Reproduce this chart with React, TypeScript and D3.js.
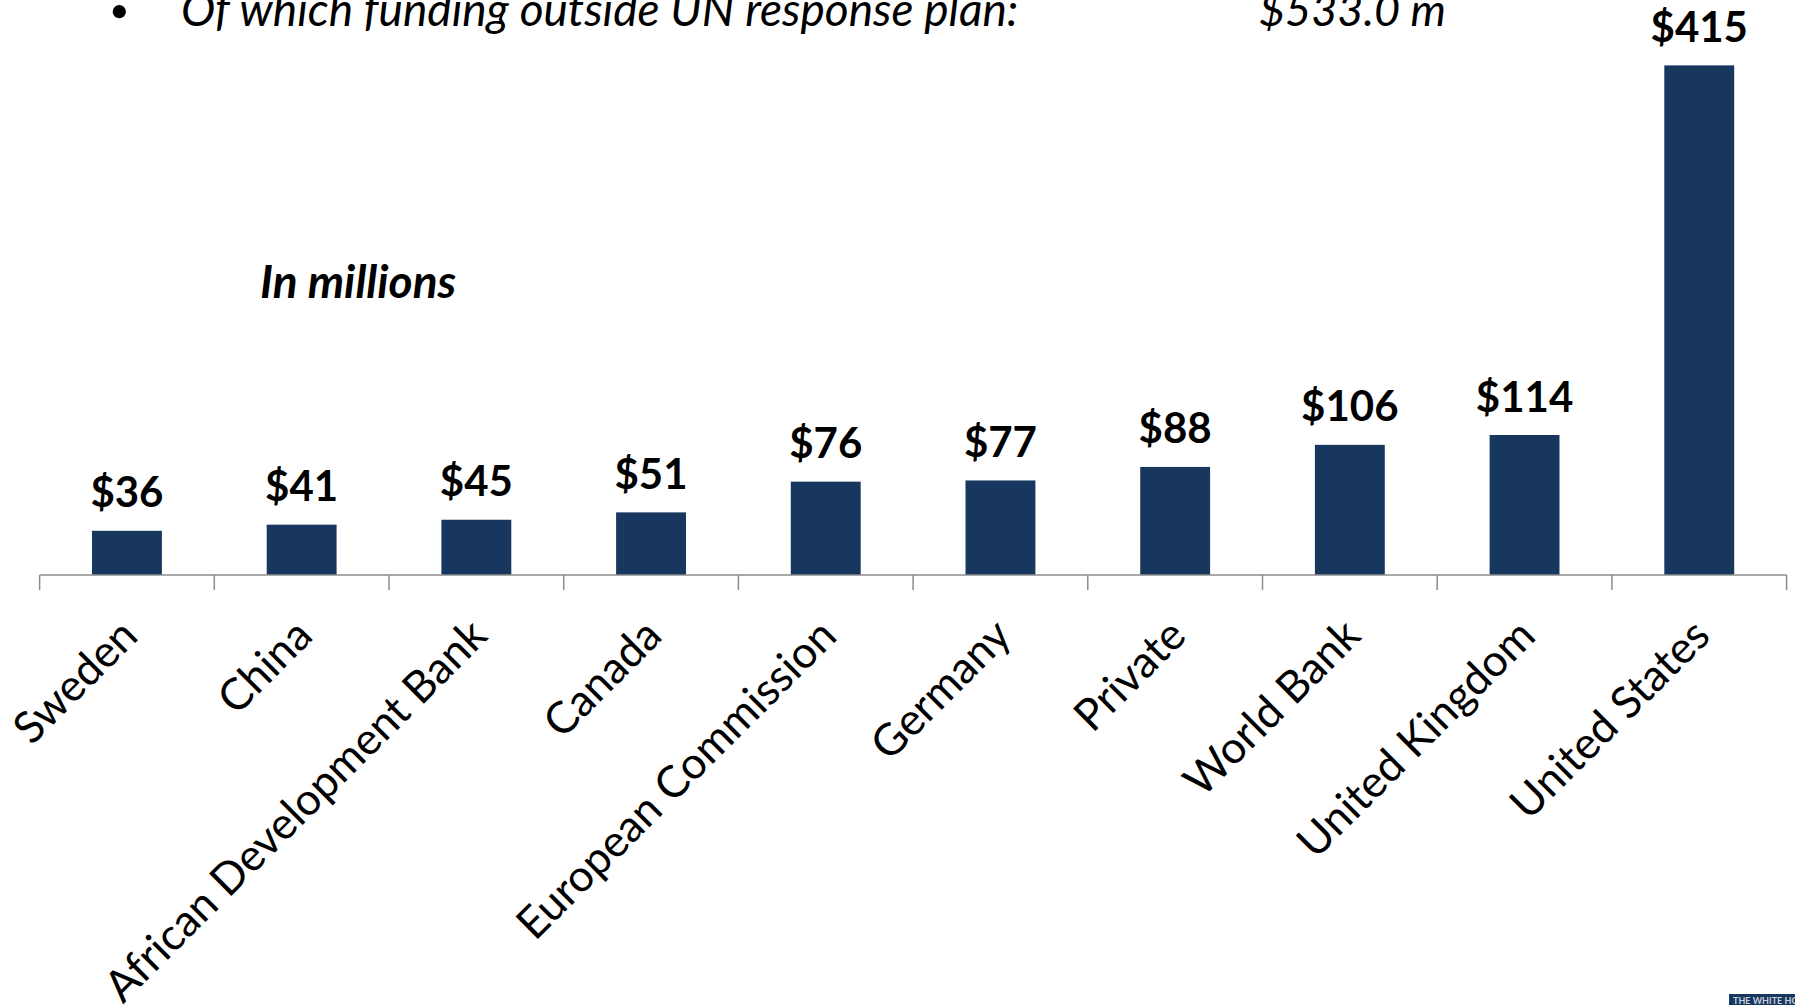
import React, { useEffect } from "react";
import * as d3 from "d3";

const categories = [
  "Sweden",
  "China",
  "African Development Bank",
  "Canada",
  "European Commission",
  "Germany",
  "Private",
  "World Bank",
  "United Kingdom",
  "United States",
];
const values = [36, 41, 45, 51, 76, 77, 88, 106, 114, 415];
const titleText = "Of which funding outside UN response plan:";
const titleValue = "$533.0 m";
const unitNote = "In millions";

const W = 1795;
const H = 1005;
const axisY = 575;
const barColor = "#17375E";

export default function App() {
  useEffect(() => {
    document.body.style.margin = "0";
    document.body.style.overflow = "hidden";
  }, []);

  const x = d3
    .scaleBand<string>()
    .domain(categories)
    .range([39.6, 1786.6])
    .paddingInner(0.6)
    .paddingOuter(0.3);
  const y = d3.scaleLinear().domain([0, 450]).range([axisY, axisY - 450 * 1.228]);
  const step = x.step();
  const tickXs = d3.range(categories.length + 1).map((i) => 39.6 + i * step);

  return (
    <svg width={W} height={H} style={{ display: "block", background: "#fff" }}>
      {/* title line */}
      <circle cx={119.3} cy={11.7} r={6.6} fill="#000" />
      <text x={181} y={26} fontFamily="Lato" fontStyle="italic" fontSize={46} fill="#000">
        {titleText}
      </text>
      <text x={1259} y={26} fontFamily="Lato" fontStyle="italic" fontSize={45} fill="#000">
        {titleValue}
      </text>
      <text x={260} y={298} fontFamily="Lato" fontStyle="italic" fontWeight={700} fontSize={46} fill="#000">
        {unitNote}
      </text>

      {/* bars */}
      {categories.map((c, i) => (
        <rect
          key={c}
          x={x(c)}
          y={y(values[i])}
          width={x.bandwidth()}
          height={axisY - y(values[i])}
          fill={barColor}
        />
      ))}

      {/* value labels */}
      {categories.map((c, i) => (
        <text
          key={"v" + c}
          x={(x(c) as number) + x.bandwidth() / 2}
          y={y(values[i]) - 23.5}
          textAnchor="middle"
          fontFamily="Lato"
          fontWeight={700}
          fontSize={42}
          fill="#000"
        >
          {"$" + values[i]}
        </text>
      ))}

      {/* axis */}
      <line x1={tickXs[0]} x2={tickXs[tickXs.length - 1]} y1={axisY} y2={axisY} stroke="#8c8c8c" strokeWidth={1.5} />
      {tickXs.map((t, i) => (
        <line key={"t" + i} x1={t} x2={t} y1={axisY} y2={axisY + 15} stroke="#8c8c8c" strokeWidth={1.5} />
      ))}

      {/* category labels */}
      {categories.map((c) => {
        const cx = (x(c) as number) + x.bandwidth() / 2 - 11;
        return (
          <text
            key={"l" + c}
            transform={`translate(${cx},614) rotate(-45)`}
            y={34}
            textAnchor="end"
            fontFamily="Lato"
            fontSize={44}
            fill="#000"
          >
            {c}
          </text>
        );
      })}

      {/* corner logo */}
      <rect x={1729} y={994} width={66} height={11} fill={barColor} />
      <text x={1733} y={1004} fontFamily="Lato" fontWeight={700} fontSize={9} fill="#c8d0dc">
        THE WHITE HOUSE
      </text>
    </svg>
  );
}
